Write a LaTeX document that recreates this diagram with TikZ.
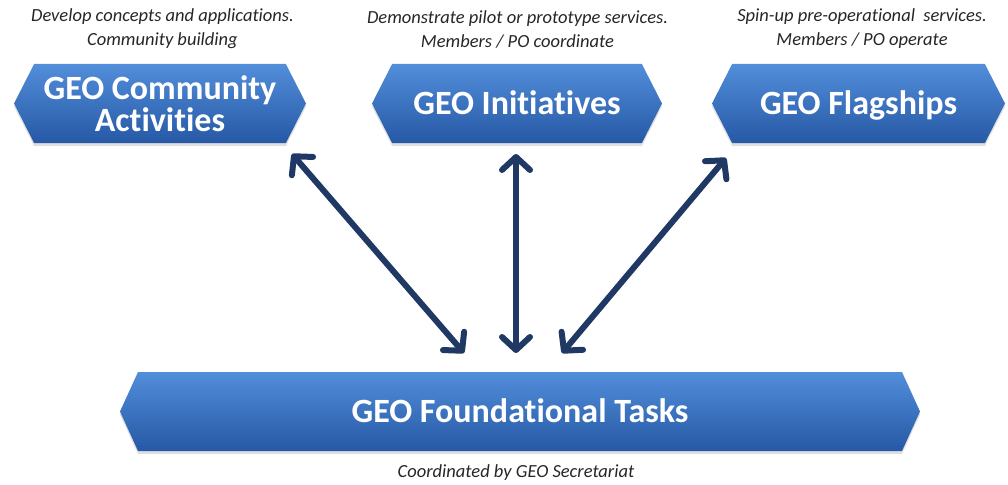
\documentclass[tikz,border=0pt]{standalone}
\usepackage{fontspec}
\setmainfont{Carlito}[Ligatures=NoCommon]
\usetikzlibrary{shapes.symbols,arrows.meta,shadows}
\definecolor{navy}{RGB}{31,56,100}
\definecolor{btop}{RGB}{82,142,218}
\definecolor{bbot}{RGB}{38,88,165}
\tikzset{
  geobox/.style={signal, signal to=east and west, signal pointer angle=126,
    top color=btop, bottom color=bbot, draw=none, inner sep=0pt,
    minimum height=79pt, text=white, align=center,
    font=\bfseries\fontsize{34}{32}\selectfont,
    drop shadow={opacity=0.25, shadow xshift=0pt, shadow yshift=-3pt}},
  oneline/.style={text height=22pt, text depth=0pt},
  note/.style={font=\itshape\fontsize{18.5}{24}\selectfont, align=center, text=black!85},
  link/.style={draw=navy, line width=6pt, line cap=round,
    {Straight Barb[length=13pt, width=28pt, line cap=round, line join=round]}-{Straight Barb[length=13pt, width=28pt, line cap=round, line join=round]}}
}
\begin{document}
\begin{tikzpicture}[x=1pt,y=-1pt]
\useasboundingbox (0,0) rectangle (1008,484);
\node[geobox, minimum width=292pt] (ca) at (160,103.5) {GEO Community\\Activities};
\node[geobox, oneline, minimum width=290pt] (gi) at (517,103.5) {GEO Initiatives};
\node[geobox, oneline, minimum width=293pt] (gf) at (858.5,103.5) {GEO Flagships};
\node[geobox, oneline, minimum width=800pt, signal pointer angle=131] (ft) at (520,411.5) {GEO Foundational Tasks};
\node[note] (n1) at (162.5,29) {Develop concepts and applications.\\Community building};
\node[note] (n2) at (517.5,29) {Demonstrate pilot or prototype services.\\Members / PO coordinate};
\node[note] (n3) at (862,29) {Spin-up pre-operational\ \ services.\\Members / PO operate};
\node[note] (n4) at (516,473) {Coordinated by GEO Secretariat};
\coordinate (a1s) at (292,154);
\coordinate (a1e) at (464,353);
\coordinate (a2s) at (516,154);
\coordinate (a2e) at (516,353);
\coordinate (a3s) at (726,158);
\coordinate (a3e) at (562,353);
\draw[link] (a1s) -- (a1e);
\draw[link] (a2s) -- (a2e);
\draw[link] (a3s) -- (a3e);
\end{tikzpicture}
\end{document}
